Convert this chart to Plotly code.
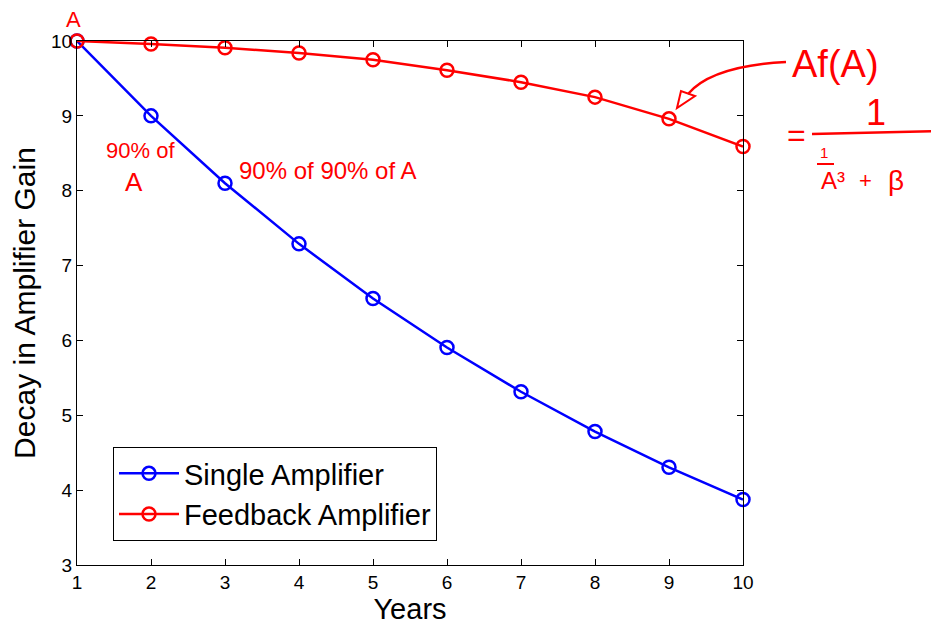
import plotly.graph_objects as go

years = [1, 2, 3, 4, 5, 6, 7, 8, 9, 10]
single_amp = [10.0, 9.0, 8.1, 7.29, 6.561, 5.905, 5.314, 4.783, 4.305, 3.874]
feedback_amp = [10.0, 9.96, 9.91, 9.84, 9.75, 9.61, 9.45, 9.25, 8.96, 8.59]
x_ticks = [1, 2, 3, 4, 5, 6, 7, 8, 9, 10]
y_ticks = [3, 4, 5, 6, 7, 8, 9, 10]

FONT = "Arial, Liberation Sans, sans-serif"
RED = "#ff0000"

# plot area in page pixels: x 77..743, y 41..565 (page has an 8px body margin)
def px(x):
    return (x - 77) / 666.0

def py(y):
    return (565 - y) / 524.0

fig = go.Figure()
fig.add_trace(go.Scatter(
    x=years, y=single_amp, name="Single Amplifier", mode="lines+markers",
    line=dict(color="#0000ff", width=2.5),
    marker=dict(symbol="circle-open", size=13, color="#0000ff", line=dict(width=2.5)),
    cliponaxis=False,
))
fig.add_trace(go.Scatter(
    x=years, y=feedback_amp, name="Feedback Amplifier", mode="lines+markers",
    line=dict(color=RED, width=2.5),
    marker=dict(symbol="circle-open", size=13, color=RED, line=dict(width=2.5)),
    cliponaxis=False,
))

axis_common = dict(
    showline=True, linecolor="black", linewidth=1, mirror="allticks",
    ticks="inside", ticklen=6, tickcolor="black", showgrid=False, zeroline=False,
    tickfont=dict(family=FONT, size=19, color="black"), automargin=False,
)

fig.update_layout(
    width=931, height=618,
    margin=dict(l=69, r=196, t=33, b=61),
    paper_bgcolor="white", plot_bgcolor="white",
    font=dict(family=FONT, color="black"),
    xaxis=dict(range=[1, 10], tickvals=x_ticks,
               title=dict(text="Years", font=dict(family=FONT, size=29), standoff=2),
               **axis_common),
    yaxis=dict(range=[3, 10], tickvals=y_ticks,
               title=dict(text="Decay in Amplifier Gain", font=dict(family=FONT, size=30), standoff=10),
               **axis_common),
    legend=dict(x=px(113), y=py(447), xanchor="left", yanchor="top",
                bordercolor="black", borderwidth=1, bgcolor="white",
                font=dict(family=FONT, size=29, color="black"),
                itemwidth=60, tracegroupgap=0),
    showlegend=True,
)

annos = [
    dict(text="A", x=px(73), y=py(19), size=22),
    dict(text="90% of", x=px(140), y=py(150), size=22),
    dict(text="A", x=px(134), y=py(182), size=26),
    dict(text="90% of 90% of A", x=px(327), y=py(170), size=24),
    dict(text="Af(A)", x=px(836), y=py(64), size=38),
    dict(text="=", x=px(796), y=py(135), size=32),
    dict(text="1", x=px(876), y=py(112), size=36),
    dict(text="1", x=px(824), y=py(152), size=15),
    dict(text="A³", x=px(833), y=py(180), size=24),
    dict(text="+", x=px(866), y=py(180), size=22),
    dict(text="β", x=px(896), y=py(180), size=28),
]
for a in annos:
    fig.add_annotation(text=a["text"], x=a["x"], y=a["y"], xref="paper", yref="paper",
                       showarrow=False, xanchor="center", yanchor="middle",
                       font=dict(family=FONT, size=a["size"], color=RED))

# fraction bars
fig.add_shape(type="line", xref="paper", yref="paper",
              x0=px(812), y0=py(134), x1=px(937), y1=py(131),
              line=dict(color=RED, width=2.5))
fig.add_shape(type="line", xref="paper", yref="paper",
              x0=px(817), y0=py(164), x1=px(834), y1=py(164),
              line=dict(color=RED, width=2))
# curved arrow from Af(A) to the curve
fig.add_shape(type="path", xref="paper", yref="paper",
              path=f"M {px(786)},{py(62)} Q {px(712)},{py(66)} {px(688)},{py(94)}",
              line=dict(color=RED, width=2.5))
fig.add_shape(type="path", xref="paper", yref="paper",
              path=f"M {px(677)},{py(108)} L {px(681)},{py(91)} L {px(695)},{py(96)} Z",
              line=dict(color=RED, width=2))

fig.write_html("out.html")
